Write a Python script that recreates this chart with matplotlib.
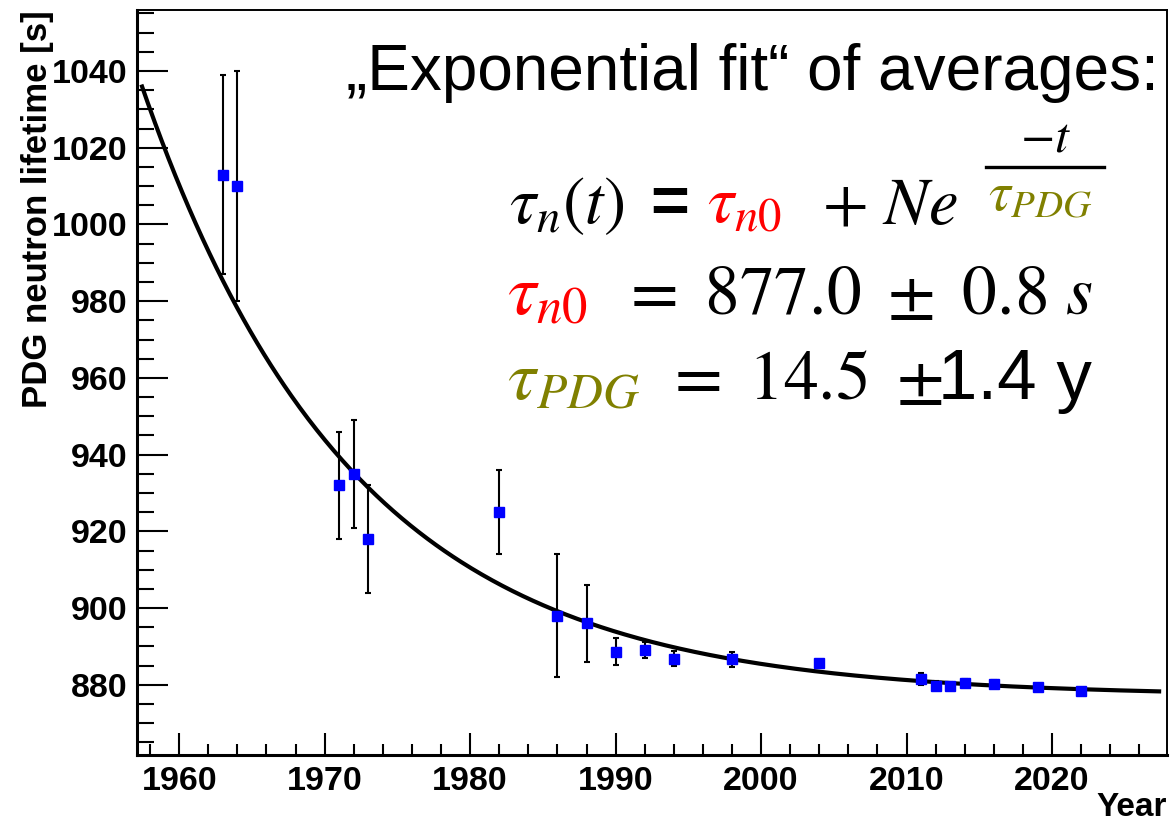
import numpy as np
import matplotlib
matplotlib.use("Agg")
import matplotlib.pyplot as plt
from matplotlib.lines import Line2D
from matplotlib.ticker import MultipleLocator

# ---------------- data ----------------
years = [1963, 1964, 1971, 1972, 1973, 1982, 1986, 1988, 1990, 1992,
         1994, 1998, 2004, 2011, 2012, 2013, 2014, 2016, 2019, 2022]
lifetimes = [1013.0, 1010.0, 932.0, 935.0, 918.0, 925.0, 898.0, 896.0, 888.6, 889.1,
             886.8, 886.6, 885.7, 881.5, 879.8, 879.8, 880.4, 880.3, 879.4, 878.3]
errors = [26.0, 30.0, 14.0, 14.0, 14.0, 11.0, 16.0, 10.0, 3.5, 2.0,
          1.9, 2.0, 0.8, 1.5, 1.1, 0.9, 1.1, 1.0, 0.6, 0.5]

# fit parameters of tau(t) = tau_n0 + N * exp(-(t - t_ref) / tau_pdg)
TAU_N0 = 877.0
TAU_PDG = 14.5
AMPLITUDE = 153.0
T_REF = 1958.0
FIT_START, FIT_END = 1957.4, 2027.5

x_ticks = [1960, 1970, 1980, 1990, 2000, 2010, 2020]
y_ticks = [880, 900, 920, 940, 960, 980, 1000, 1020, 1040]
x_label = "Year"
y_label = "PDG neutron lifetime [s]"

# ---------------- figure ----------------
W, H = 1173, 825
plt.rcParams["font.family"] = ["Liberation Sans", "DejaVu Sans"]
plt.rcParams["mathtext.fontset"] = "stix"
fig = plt.figure(figsize=(W / 100, H / 100), dpi=100)
fig.patch.set_facecolor("white")

ax = fig.add_axes([137 / W, (H - 755) / H, (1167 - 137) / W, (755 - 10) / H])
ax.set_xlim(1957.1, 2027.9)
ax.set_ylim(861.7, 1055.9)

# fit curve
t = np.linspace(FIT_START, FIT_END, 600)
ax.plot(t, TAU_N0 + AMPLITUDE * np.exp(-(t - T_REF) / TAU_PDG),
        color="black", lw=3.0, zorder=2, solid_capstyle="butt")

# data points
ax.errorbar(years, lifetimes, yerr=errors, fmt="none", ecolor="black",
            elinewidth=1.5, capsize=2.2, capthick=1.5, zorder=3)
ax.plot(years, lifetimes, linestyle="none", marker="s", markersize=7.2,
        markerfacecolor="#0000FF", markeredgecolor="#0000FF", zorder=4)

# axes styling
ax.set_xticks(x_ticks)
ax.set_xticklabels([str(v) for v in x_ticks], fontweight="bold")
ax.set_yticks(y_ticks)
ax.set_yticklabels([str(v) for v in y_ticks], fontweight="bold")
ax.xaxis.set_minor_locator(MultipleLocator(2))
ax.yaxis.set_minor_locator(MultipleLocator(5))
ax.tick_params(axis="x", which="major", direction="in", length=15.8, width=1.5,
               labelsize=24.5, pad=8, top=False)
ax.tick_params(axis="x", which="minor", direction="in", length=8, width=1.5, top=False)
ax.tick_params(axis="y", which="major", direction="in", length=22.5, width=1.5,
               labelsize=24.5, pad=6.5, right=False)
ax.tick_params(axis="y", which="minor", direction="in", length=12, width=1.5, right=False)
ax.spines["left"].set_linewidth(2.2)
ax.spines["bottom"].set_linewidth(2.2)
ax.spines["top"].set_linewidth(1.4)
ax.spines["right"].set_linewidth(1.4)

fig.text(38 / W, 1 - 10 / H, y_label, rotation=90, ha="center", va="top",
         fontsize=25, fontweight="bold")
fig.text(1167 / W, 1 - 816 / H, x_label, ha="right", va="baseline",
         fontsize=24, fontweight="bold")


# ---------------- annotation text ----------------
def put(px, py, s, size, color="black", **kw):
    fig.text(px / W, 1 - py / H, s, fontsize=size, color=color,
             ha="left", va="baseline", **kw)


RED = "#FF0000"
OLIVE = "#808000"

put(346, 90, "\u201eExponential fit\u201c of averages:", 46)

# line 2: formula
put(509, 223, r"$\tau_n(t)$", 48)
put(650, 223, "=", 48, fontweight="bold")
put(707, 223, r"$\tau_{n0}$", 48, RED)
put(822, 223, r"$+\ Ne$", 48)
put(1020, 152, r"$-t$", 36)
fig.add_artist(Line2D([986 / W, 1104 / W], [1 - 167 / H, 1 - 167 / H],
                      transform=fig.transFigure, color="black", lw=2.4))
put(988, 210, r"$\tau_{PDG}$", 40, OLIVE)

# line 3
put(507, 314, r"$\tau_{n0}$", 52, RED)
put(620, 314, r"$=\ 877.0\ \pm\ 0.8\ s$", 50)

# line 4
put(507, 399, r"$\tau_{PDG}$", 51, OLIVE)
put(664, 399, r"$=\ 14.5\ \pm$", 50)
put(938, 399, "1.4 y", 51)

fig.savefig("out.png", dpi=100)
